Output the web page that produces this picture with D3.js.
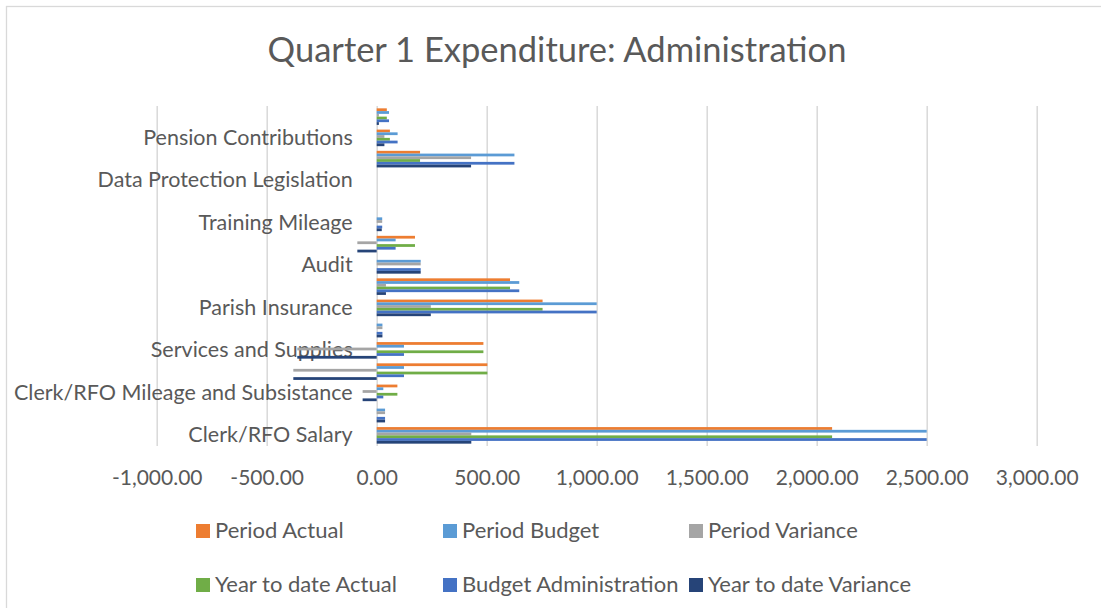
<!DOCTYPE html>
<html>
<head>
<meta charset="utf-8">
<script src="https://cdn.jsdelivr.net/npm/d3@7"></script>
<style>
  body { margin: 0; background: #fff; }
  svg { display: block; font-family: Lato, "Noto Sans", sans-serif; }
</style>
</head>
<body>
<div id="chart"></div>
<script>
// categories, bottom to top (Excel only prints every other label)
const categories = [
    "Clerk/RFO Salary", "",
    "Clerk/RFO Mileage and Subsistance", "",
    "Services and Supplies", "",
    "Parish Insurance", "",
    "Audit", "",
    "Training Mileage", "",
    "Data Protection Legislation", "",
    "Pension Contributions", ""
];

const seriesNames = ["Period Actual", "Period Budget", "Period Variance",
    "Year to date Actual", "Budget Administration", "Year to date Variance"];
const seriesColors = ["#ED7D31", "#5B9BD5", "#A5A5A5", "#70AD47", "#4472C4", "#264478"];

const periodActual   = [2070, 0, 94, 503, 485, 0, 754, 606, 0, 174, 0, 0, 0, 197, 60, 46];
const periodBudget   = [2500, 38, 30, 124, 124, 26, 1000, 648, 200, 86, 25, 0, 0, 626, 95, 56];
const periodVariance = [430, 38, -64, -379, -361, 26, 246, 42, 200, -88, 25, 0, 0, 429, 35, 10];
const ytdActual      = [2070, 0, 94, 503, 485, 0, 754, 606, 0, 174, 0, 0, 0, 197, 60, 46];
const budgetAdmin    = [2500, 38, 30, 124, 124, 26, 1000, 648, 200, 86, 25, 0, 0, 626, 95, 56];
const ytdVariance    = [430, 38, -64, -379, -361, 26, 246, 42, 200, -88, 23, 0, 0, 429, 35, 10];

const xTicks = [-1000, -500, 0, 500, 1000, 1500, 2000, 2500, 3000];

const seriesValues = [periodActual, periodBudget, periodVariance, ytdActual, budgetAdmin, ytdVariance];

const width = 1101, height = 608;
const plot = { left: 156.7, right: 1036.7, top: 106, bottom: 446 };
const textColor = "#595959";

const svg = d3.select("#chart").append("svg")
    .attr("width", width)
    .attr("height", height);

// chart area border (cropped on the right and bottom in the original)
svg.append("rect")
    .attr("x", 6.5).attr("y", 6.5)
    .attr("width", width + 20).attr("height", height + 20)
    .attr("fill", "#fff")
    .attr("stroke", "#D9D9D9")
    .attr("stroke-width", 1.3);

svg.append("text")
    .attr("x", 557).attr("y", 62)
    .attr("text-anchor", "middle")
    .attr("font-size", 34.5)
    .attr("fill", textColor)
    .text("Quarter 1 Expenditure: Administration");

const x = d3.scaleLinear()
    .domain([-1000, 3000])
    .range([plot.left, plot.right]);

const y0 = d3.scaleBand()
    .domain(d3.range(categories.length))
    .range([plot.bottom, plot.top])
    .paddingInner(0.22)
    .paddingOuter(0.11);

const y1 = d3.scaleBand()
    .domain(seriesNames)
    .range([0, y0.bandwidth()]);

const fmt = d3.formatLocale({ decimal: ".", thousands: ",", grouping: [3], currency: ["", ""], minus: "-" }).format(",.2f");

// gridlines + tick labels
const xAxis = svg.append("g")
    .attr("transform", `translate(0,${plot.bottom})`)
    .call(d3.axisBottom(x)
        .tickValues(xTicks)
        .tickSize(-(plot.bottom - plot.top))
        .tickPadding(24)
        .tickFormat(fmt));
xAxis.select(".domain").remove();
xAxis.selectAll(".tick line").attr("stroke", "#D9D9D9").attr("stroke-width", 1.5);
xAxis.selectAll(".tick text")
    .attr("fill", textColor)
    .attr("font-size", 21)
    .attr("font-family", "Lato, sans-serif");

// category labels next to the zero axis
const yAxis = svg.append("g")
    .attr("transform", `translate(${x(0)},0)`)
    .call(d3.axisLeft(y0)
        .tickValues(d3.range(0, categories.length, 2))
        .tickSize(0)
        .tickPadding(24)
        .tickFormat(i => categories[i]));
yAxis.select(".domain").remove();
yAxis.selectAll(".tick text")
    .attr("fill", textColor)
    .attr("font-size", 21.5)
    .attr("font-family", "Lato, sans-serif")
    .attr("dy", "0.33em");

// bars
const groups = svg.append("g")
    .selectAll("g")
    .data(d3.range(categories.length))
    .join("g")
    .attr("transform", i => `translate(0,${y0(i)})`);

groups.selectAll("rect")
    .data(i => seriesNames.map((name, s) => ({ name, s, value: seriesValues[s][i] })))
    .join("rect")
    .attr("x", d => x(Math.min(0, d.value)))
    .attr("y", d => y1(d.name))
    .attr("width", d => Math.abs(x(d.value) - x(0)))
    .attr("height", y1.bandwidth())
    .attr("fill", d => seriesColors[d.s]);

// legend
const legendCols = [196, 443, 689];
const legendRows = [538, 592];
const legend = svg.append("g")
    .selectAll("g")
    .data(seriesNames)
    .join("g")
    .attr("transform", (d, i) => `translate(${legendCols[i % 3]},${legendRows[Math.floor(i / 3)]})`);

legend.append("rect")
    .attr("x", 0).attr("y", -14)
    .attr("width", 14).attr("height", 14)
    .attr("fill", (d, i) => seriesColors[i]);

legend.append("text")
    .attr("x", 19).attr("y", 0)
    .attr("font-size", 22)
    .attr("fill", textColor)
    .text(d => d);
</script>
</body>
</html>
